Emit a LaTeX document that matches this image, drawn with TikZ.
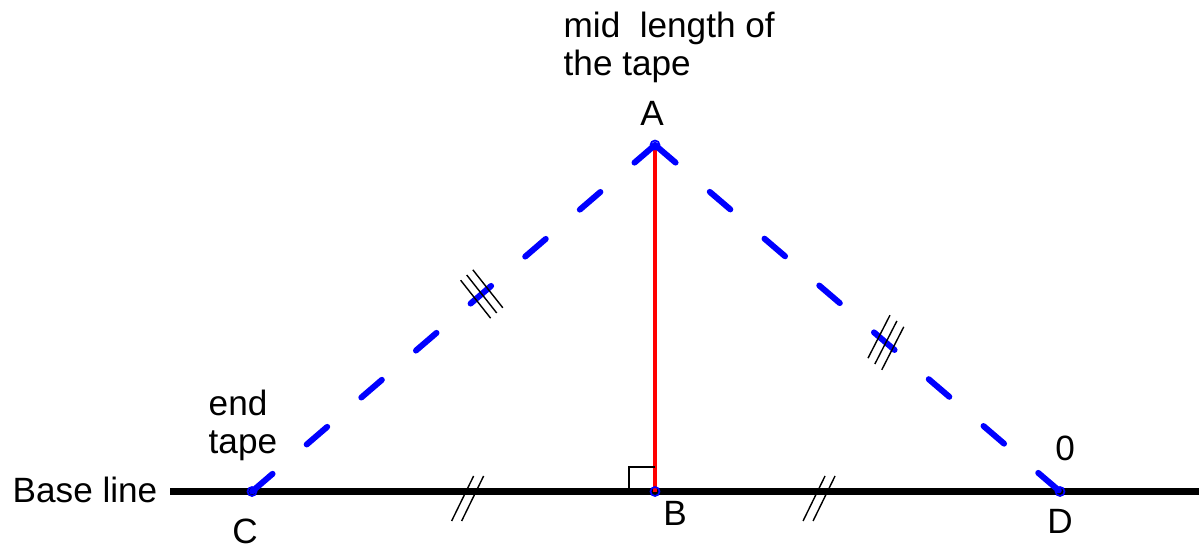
\documentclass[tikz,border=0pt]{standalone}
\usepackage{fontspec}
\setmainfont{Liberation Sans}
\usepackage{xcolor}
\usepackage{tikz}
\usetikzlibrary{calc}
\definecolor{tapeblue}{HTML}{0000FF}
\definecolor{perpred}{HTML}{FF0000}

\begin{document}
\begin{tikzpicture}[every node/.style={font=\fontsize{10}{10.8}\selectfont, inner sep=0pt},
  tape/.style={tapeblue, line width=1.7pt, line cap=round, dash pattern=on 7.7pt off 12.8pt},
  hatch/.style={black, line width=0.4pt},
  pt/.style={draw=tapeblue, line width=0.5pt}]
  \useasboundingbox (0,0) rectangle (11.99,5.48);
  \coordinate (A) at (6.55,4.03);
  \coordinate (B) at (6.55,0.565);
  \coordinate (C) at (2.52,0.565);
  \coordinate (D) at (10.60,0.565);
  \coordinate (L) at (1.70,0.565);
  \coordinate (R) at (11.99,0.565);

  % base line and the perpendicular
  \draw[line width=2pt] (L) -- (R);
  \draw[perpred, line width=1.4pt] (B) -- (A);
  \draw[black, line width=0.5pt] ($(B)+(-0.26,0)$) |- ($(B)+(0,0.245)$);

  % tape
  \draw[tape] (A) -- (C);
  \draw[tape] (A) -- (D);
  \foreach \p in {A,B,C,D}
    \draw[pt] (\p) circle (0.045);

  % equal marks
  \coordinate (t1) at ($(C)!0.57!(A)$);
  \coordinate (t2) at ($(A)!0.57!(D)$);
  \coordinate (t3) at ($(C)!0.535!(B)$);
  \coordinate (t4) at ($(B)!0.405!(D)$);
  \foreach \s in {-1,0,1} {
    \draw[hatch] ($(t1)+(\s*0.061,\s*0.052)+(-0.15,0.19)$) -- ++(0.30,-0.38);
    \draw[hatch] ($(t2)+(\s*0.069,-\s*0.058)+(0.11,0.215)$) -- ++(-0.22,-0.43);
  }
  \foreach \s in {-1,1} {
    \draw[hatch] ($(t3)+(\s*0.05,-0.07)+(0.11,0.225)$) -- ++(-0.22,-0.45);
    \draw[hatch] ($(t4)+(\s*0.05,-0.07)+(0.11,0.225)$) -- ++(-0.22,-0.45);
  }

  % labels
  \node[anchor=base west, align=left] (midlbl) at (5.63,4.73) {mid\ \ length of\\the tape};
  \node[anchor=base west, align=left] (endlbl) at (2.08,0.95) {end\\tape};
  \node[anchor=base] (Albl) at (6.52,4.23) {A};
  \node[anchor=base] (Blbl) at (6.75,0.23) {B};
  \node[anchor=base] (Clbl) at (2.45,0.05) {C};
  \node[anchor=base] (Dlbl) at (10.60,0.15) {D};
  \node[anchor=base] (zerolbl) at (10.65,0.88) {0};
  \node[anchor=base west] (baselbl) at (0.12,0.46) {Base line};
\end{tikzpicture}
\end{document}
